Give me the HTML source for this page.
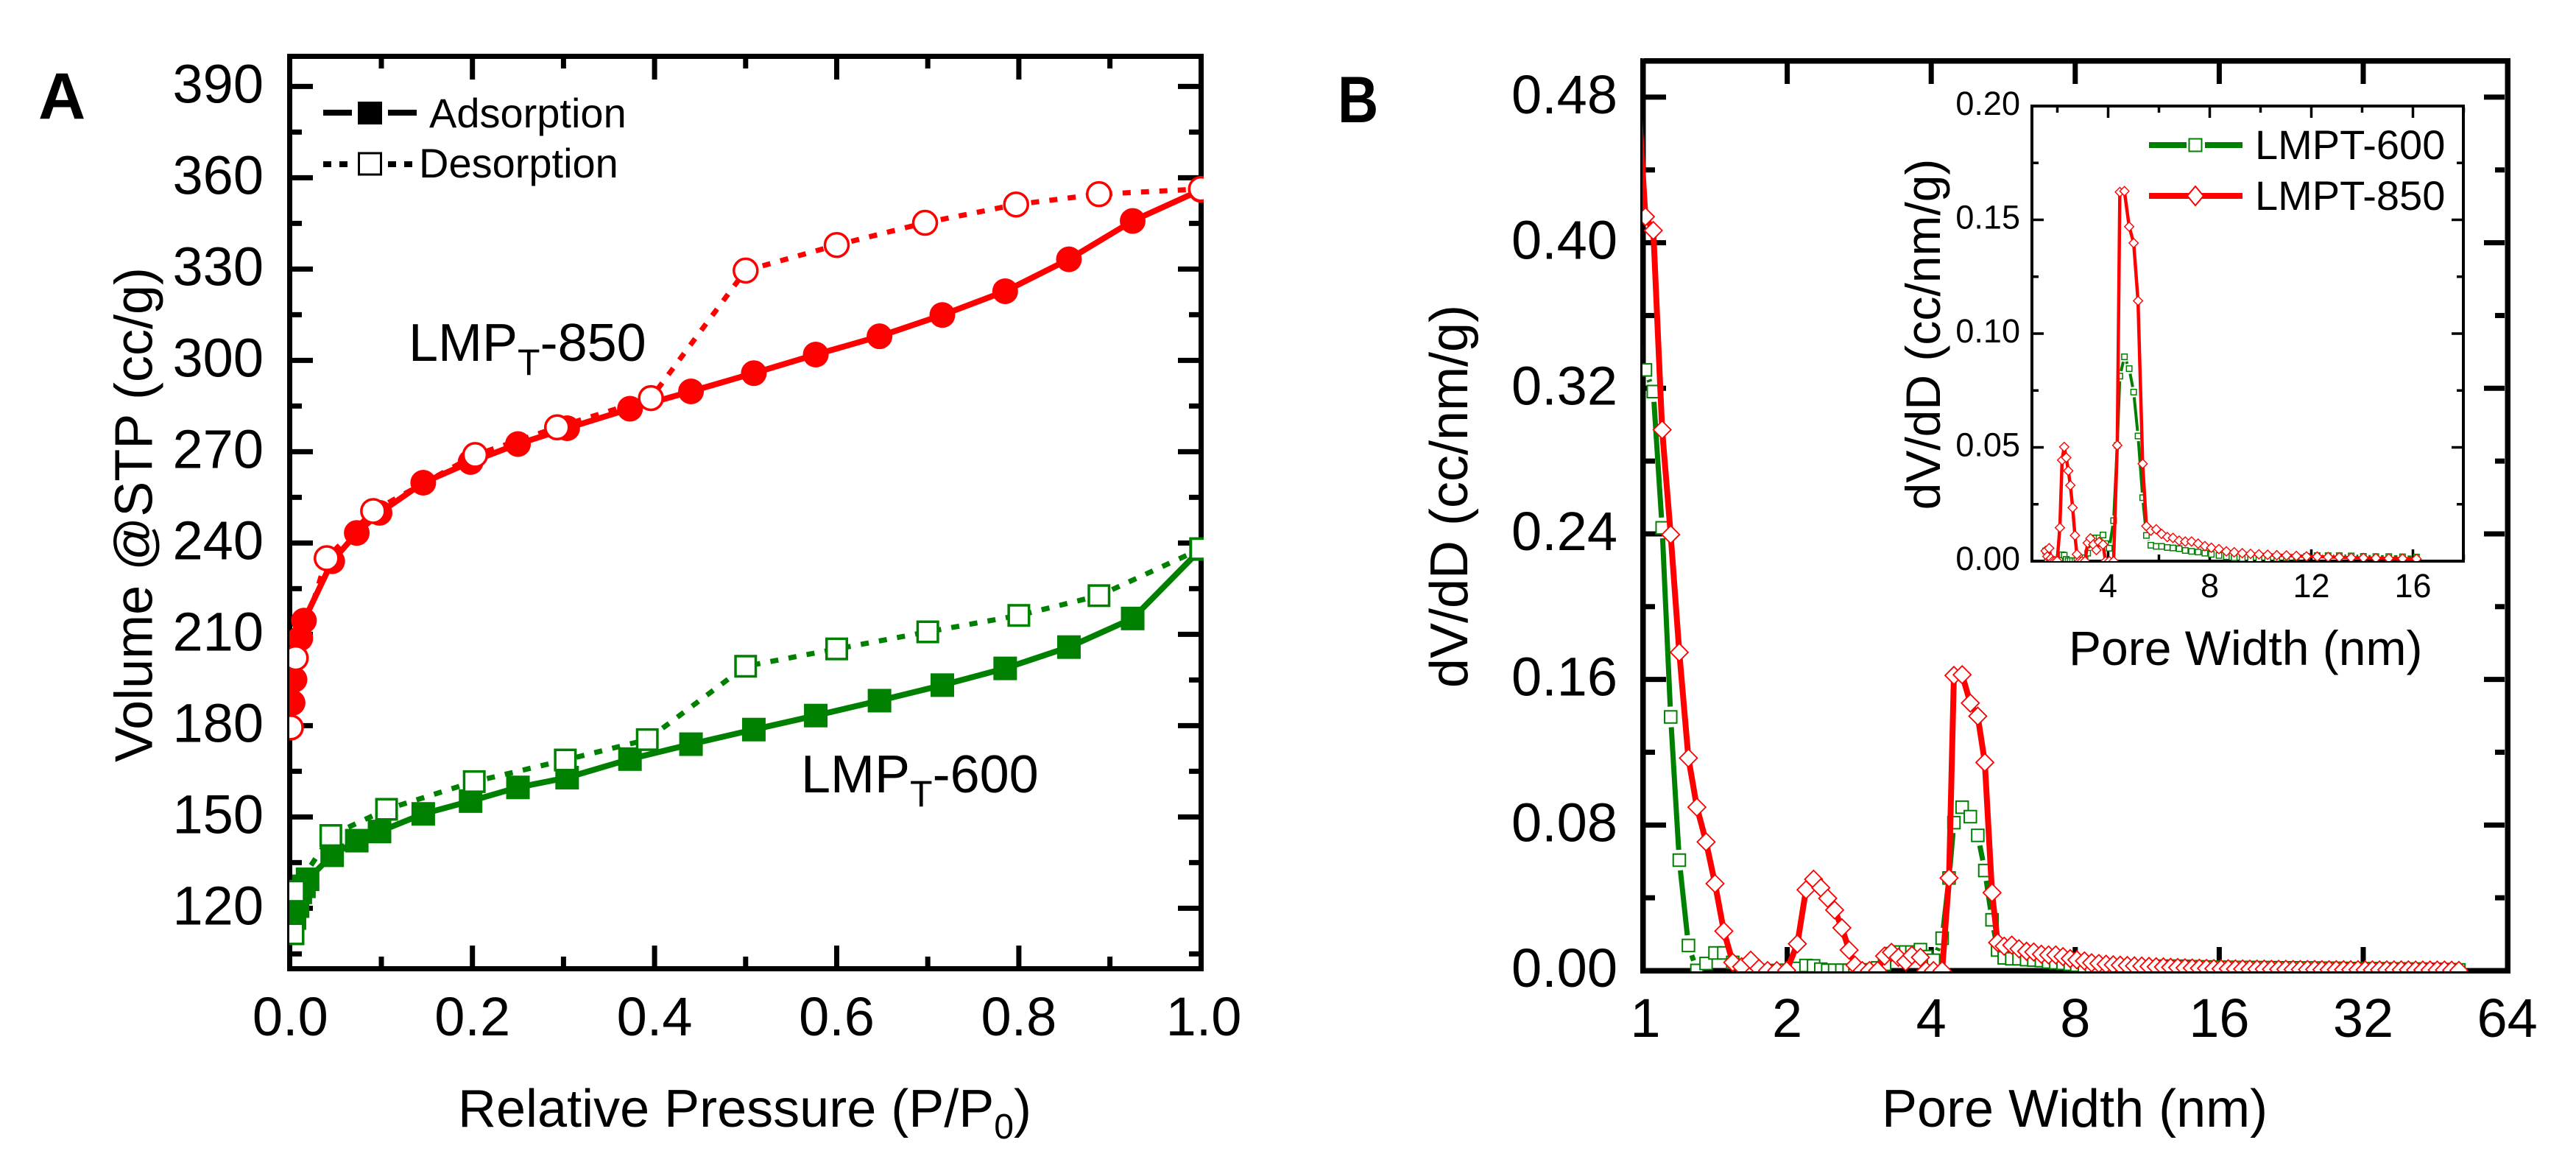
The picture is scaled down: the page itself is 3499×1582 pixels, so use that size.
<!DOCTYPE html>
<html lang="en">
<head>
<meta charset="utf-8">
<title>Isotherms and pore size distribution</title>
<style>
html,body{margin:0;padding:0;background:#fff}
svg{display:block}
text{font-family:"Liberation Sans",sans-serif;fill:#000}
</style>
</head>
<body>
<svg id="figure" xmlns="http://www.w3.org/2000/svg" width="3499" height="1582" viewBox="0 0 3499 1582">
  <defs>
    <clipPath id="clip-a"><rect x="393" y="73" width="1242" height="1246"/></clipPath>
    <clipPath id="clip-b"><rect x="2231" y="79" width="1179" height="1240"/></clipPath>
    <clipPath id="clip-i"><rect x="2759" y="142" width="590" height="620"/></clipPath>
  </defs>
  <rect width="3499" height="1582" fill="#fff"/>

  <g id="axes-a"></g>
  <g id="axes-b"></g>
  <g id="axes-i"></g>
  <g id="data-a" clip-path="url(#clip-a)"></g>
  <g id="data-b" clip-path="url(#clip-b)"></g>
  <g id="data-i" clip-path="url(#clip-i)"></g>

  <text x="52" y="161" font-size="89" font-weight="bold">A</text>
  <text transform="translate(1817,166) scale(0.86,1)" font-size="89" font-weight="bold">B</text>

  <text transform="translate(206.5,699) rotate(-90)" text-anchor="middle" font-size="72">Volume @STP (cc/g)</text>
  <text x="622" y="1530" font-size="72">Relative Pressure (P/P<tspan font-size="48" dy="16">0</tspan><tspan dy="-16">)</tspan></text>
  <text transform="translate(1993,674) rotate(-90)" text-anchor="middle" font-size="72">dV/dD (cc/nm/g)</text>
  <text x="2556" y="1530" font-size="72">Pore Width (nm)</text>
  <text transform="translate(2635,454) rotate(-90)" text-anchor="middle" font-size="66">dV/dD (cc/nm/g)</text>
  <text x="2810" y="903" font-size="66">Pore Width (nm)</text>

  <text x="555" y="490" font-size="72">LMP<tspan font-size="50" dy="19">T</tspan><tspan dy="-19">-850</tspan></text>
  <text x="1088" y="1076" font-size="72">LMP<tspan font-size="50" dy="19">T</tspan><tspan dy="-19">-600</tspan></text>

  <g>
    <g>
      <line x1="439" y1="153" x2="478" y2="153" stroke="#000" stroke-width="8"/>
      <line x1="527" y1="153" x2="566" y2="153" stroke="#000" stroke-width="8"/>
      <rect x="486" y="138" width="33" height="31" fill="#000"/>
      <text x="583" y="173" font-size="56">Adsorption</text>
    </g>
    <g>
      <line x1="439" y1="223" x2="478" y2="223" stroke="#000" stroke-width="8" stroke-dasharray="11 11"/>
      <line x1="527" y1="223" x2="566" y2="223" stroke="#000" stroke-width="8" stroke-dasharray="11 11"/>
      <rect x="487.5" y="208" width="30" height="29" fill="#fff" stroke="#000" stroke-width="3"/>
      <text x="569" y="241" font-size="56">Desorption</text>
    </g>
  </g>

  <g>
    <g>
      <line x1="2919" y1="197" x2="2970" y2="197" stroke="#008000" stroke-width="8"/>
      <line x1="2995" y1="197" x2="3046" y2="197" stroke="#008000" stroke-width="8"/>
      <rect x="2973.5" y="188.5" width="17" height="17" fill="#fff" stroke="#008000" stroke-width="2"/>
      <text x="3063" y="216" font-size="56">LMPT-600</text>
    </g>
    <g>
      <line x1="2919" y1="266" x2="3046" y2="266" stroke="#ff0000" stroke-width="8"/>
      <polygon points="2982,253 2993,266 2982,279 2971,266" fill="#fff" stroke="#ff0000" stroke-width="2"/>
      <text x="3063" y="285" font-size="56">LMPT-850</text>
    </g>
  </g>
</svg>

<script>
// ---------- Panel A data (isotherms) ----------
const adsorption600P = [0.0046,0.008,0.011,0.015,0.019,0.046,0.073,0.098,0.146,0.198,0.25,0.304,0.373,0.44,0.509,0.577,0.647,0.716,0.785,0.855,0.925,1.0];
const adsorption600V = [116.8,120.7,125.2,127.2,129.5,137.4,142.2,145.2,151,155.2,159.7,162.9,169,173.9,178.7,183.3,188.2,193.3,198.8,205.8,215.2,238];
const desorption600P = [0.003,0.004,0.0445,0.1057,0.202,0.302,0.392,0.5,0.6,0.7,0.8,0.888,1.0];
const desorption600V = [111.6,125.6,143.9,152.5,161.6,168.7,175.4,199.5,205.2,210.8,216.2,222.7,238.1];
const adsorption850P = [0.0025,0.0046,0.011,0.015,0.046,0.073,0.098,0.146,0.198,0.25,0.304,0.373,0.44,0.509,0.577,0.647,0.716,0.785,0.855,0.925,1.0];
const adsorption850V = [187.5,195.1,208.7,214.5,234,243.3,249.9,259.8,266.6,272.5,277.7,284.1,289.8,295.8,301.9,307.9,314.9,322.7,333.2,345.8,356];
const desorption850P = [0.0006,0.006,0.04,0.091,0.203,0.293,0.396,0.5,0.6,0.697,0.797,0.888,1.0];
const desorption850V = [179.4,202.2,235,250.5,268.9,278,287.6,329.5,337.9,345.2,351.2,354.6,356.3];

// ---------- Panel B data (pore size distribution) ----------
const poreWidth = [
0.965,1.0107,1.0497,1.0954,1.1413,1.1896,1.2431,1.2948,1.3534,1.4127,
1.4741,1.5388,1.6056,1.6776,1.7461,1.8194,1.902,1.9943,2.1,2.1892,
2.2707,2.351,2.4305,2.5127,2.6015,2.694,2.7706,2.8698,2.971,3.0906,
3.1952,3.3034,3.4154,3.5362,3.6441,3.7971,3.8999,4.0441,4.2157,4.3582,
4.4618,4.6418,4.8284,5.0046,5.1773,5.3602,5.5063,5.6829,5.8942,6.1024,
6.3293,6.5529,6.7962,7.0363,7.2849,7.5421,7.8087,8.0624,8.3629,8.6552,
8.9632,9.28,9.6072,9.9356,10.28,10.64,11.02,11.41,11.81,12.23,
12.66,13.10,13.57,14.05,14.54,15.05,15.59,16.14,16.71,17.30,
17.91,18.54,19.19,19.87,20.57,21.30,22.05,22.83,23.64,24.47,
25.33,26.23,27.15,28.11,29.11,30.13,31.20,32.30,33.44,34.62,
35.84,37.11,38.42,39.77,41.18,42.63,44.13,45.69,47.31,48.98,
50.71];
const dvdd850 = [
0.5022,0.4143,0.4067,0.2972,0.2396,0.1749,0.1168,0.0898,0.0707,0.0478,
0.0217,0.0045,0.0021,0.0057,0.0012,0,0,0.0001,0.0147,0.0444,
0.0502,0.0455,0.0397,0.0333,0.0235,0.0113,0.003,0,0,0,
0.008,0.01,0.0073,0.0049,0.0084,0.0073,0,0,0,0.0509,
0.1622,0.1626,0.147,0.1398,0.1144,0.0428,0.0154,0.0134,0.014,0.012,
0.0106,0.0102,0.009,0.0086,0.0086,0.0077,0.0066,0.0059,0.0053,0.0043,
0.0039,0.0035,0.0032,0.003,0.0028,0.0026,0.0025,0.0023,0.0021,0.002,
0.0018,0.0017,0.0015,0.0014,0.0013,0.0012,0.0011,0.001,0.001,0.0009,
0.0009,0.0008,0.0008,0.0008,0.0007,0.0007,0.0007,0.0006,0.0006,0.0006,
0.0006,0.0005,0.0005,0.0005,0.0005,0.0005,0.0005,0.0004,0.0004,0.0004,
0.0004,0.0004,0.0004,0.0004,0.0003,0.0003,0.0003,0.0003,0.0003,0.0002,
0.0001];
const dvdd600 = [
0.34,0.3301,0.3182,0.2433,0.1394,0.0607,0.0138,0.0001,0.0039,0.0097,
0.0097,0.0045,0.0004,0.0002,0.0001,0,0,0.0002,0.0012,0.0028,
0.0026,0.0008,0.0002,0.0002,0.0002,0.0002,0.0002,0.0002,0.0004,0.0015,
0.0035,0.0093,0.0102,0.0102,0.0102,0.0115,0.0077,0.0057,0.0178,0.0509,
0.0813,0.0898,0.0846,0.0743,0.055,0.0279,0.0113,0.007,0.0065,0.0065,
0.006,0.0058,0.0055,0.0047,0.0043,0.004,0.0035,0.003,0.0025,0.002,
0.0015,0.0012,0.001,0.0009,0.0009,0.0012,0.0015,0.0018,0.0021,0.0024,
0.0024,0.0024,0.0023,0.0021,0.002,0.002,0.0019,0.0018,0.0018,0.0017,
0.0017,0.0017,0.0016,0.0016,0.0016,0.0015,0.0015,0.0015,0.0014,0.0014,
0.0014,0.0013,0.0013,0.0012,0.0012,0.0011,0.0011,0.001,0.001,0.001,
0.0009,0.0009,0.0009,0.0008,0.0008,0.0008,0.0007,0.0007,0.0006,0.0005,
0.0004];

// ---------- Tick labels ----------
const aXMajor = ["0.0","0.2","0.4","0.6","0.8","1.0"];
const aXMinor = [0.1,0.3,0.5,0.7,0.9];
const aYMajor = ["120","150","180","210","240","270","300","330","360","390"];
const aYMinor = [105,135,165,195,225,255,285,315,345,375];
const bXMajor = ["1","2","4","8","16","32","64"];
const bYMajor = ["0.00","0.08","0.16","0.24","0.32","0.40","0.48"];
const bYMinor = [0.04,0.12,0.2,0.28,0.36,0.44];
const iXMajor = ["4","8","12","16"];
const iXMinor = [2,6,10,14,18];
const iYMajor = ["0.00","0.05","0.10","0.15","0.20"];
const iYMinor = [0.025,0.075,0.125,0.175];
const insetRange = [1.53,16.2];

// ---------- Axis functions ----------
const xA = v => 394.3 + v * 1237;
const yA = v => 1316 - (v - 100) * 4.1333;
const xB = v => 2232 + Math.log2(v) * 195.6;
const yB = v => 1318 - v * 2471;
const xI = v => 2760 + (v - 1) * 34.5;
const yI = v => 762 - v * 3090;

const NS = "http://www.w3.org/2000/svg";
function make(tag, parent, attrs) {
  const node = document.createElementNS(NS, tag);
  for (const k in attrs) node.setAttribute(k, attrs[k]);
  parent.appendChild(node);
  return node;
}
function drawFrame(g, x, y, w, h, sw) {
  const el = make("rect", g, {x: x + sw / 2, y: y + sw / 2, width: w - sw, height: h - sw, fill: "none", stroke: "#000", "stroke-width": sw});
  
  
}
function tickX(g, px, yIn1, yIn2, len, sw, name) {
  const a = make("line", g, {x1: px, x2: px, y1: yIn1, y2: yIn1 - len, stroke: "#000", "stroke-width": sw});
  
  
  const b = make("line", g, {x1: px, x2: px, y1: yIn2, y2: yIn2 + len, stroke: "#000", "stroke-width": sw});
  
  
}
function tickY(g, py, xIn1, xIn2, len, sw, name) {
  const a = make("line", g, {y1: py, y2: py, x1: xIn1, x2: xIn1 + len, stroke: "#000", "stroke-width": sw});
  
  
  const b = make("line", g, {y1: py, y2: py, x1: xIn2, x2: xIn2 - len, stroke: "#000", "stroke-width": sw});
  
  
}
function label(g, x, y, anchor, size, str, name) {
  const el = make("text", g, {x: x, y: y, "text-anchor": anchor, "font-size": size});
  el.textContent = str;
  
  
}

// ---------- Panel A axes ----------
const axA = document.getElementById("axes-a");
drawFrame(axA, 390, 73, 1245, 1246, 7);
aXMajor.forEach(t => {
  const v = parseFloat(t);
  if (v > 0 && v < 1) tickX(axA, xA(v), 1312, 80, 28, 7, "x-major-tick");
  label(axA, v === 1 ? 1635 : xA(v), 1406, "middle", 74, t, "x-tick-label");
});
aXMinor.forEach(v => tickX(axA, xA(v), 1312, 80, 13, 7, "x-minor-tick"));
aYMajor.forEach(t => {
  const v = parseFloat(t);
  tickY(axA, yA(v), 397, 1628, 28, 7, "y-major-tick");
  label(axA, 358, yA(v) + 22, "end", 74, t, "y-tick-label");
});
aYMinor.forEach(v => tickY(axA, yA(v), 397, 1628, 13, 7, "y-minor-tick"));

// ---------- Panel B axes ----------
const axB = document.getElementById("axes-b");
drawFrame(axB, 2228, 79, 1182, 1243, 7.5);
bXMajor.forEach(t => {
  const v = parseFloat(t);
  if (v > 1 && v < 64) tickX(axB, xB(v), 1314, 86, 28, 7, "x-major-tick");
  label(axB, v === 1 ? 2235 : xB(v), 1408, "middle", 74, t, "x-tick-label");
});
bYMajor.forEach(t => {
  const v = parseFloat(t);
  if (v > 0) tickY(axB, yB(v), 2235, 3402, 28, 7, "y-major-tick");
  label(axB, 2197, yB(v) + 22, "end", 74, t, "y-tick-label");
});
bYMinor.forEach(v => tickY(axB, yB(v), 2235, 3402, 13, 7, "y-minor-tick"));

// ---------- Inset axes ----------
const axI = document.getElementById("axes-i");
drawFrame(axI, 2758, 142, 590, 622, 4);
iXMajor.forEach(t => {
  const v = parseFloat(t);
  tickX(axI, xI(v), 760, 146, 14, 3.5, "inset-x-major-tick");
  label(axI, xI(v), 811, "middle", 45, t, "inset-x-tick-label");
});
iXMinor.forEach(v => tickX(axI, xI(v), 760, 146, 7, 3.5, "inset-x-minor-tick"));
iYMajor.forEach(t => {
  const v = parseFloat(t);
  if (v > 0 && v < 0.2) tickY(axI, yI(v), 2762, 3344, 14, 3.5, "inset-y-major-tick");
  label(axI, 2744, yI(v) + 12, "end", 45, t, "inset-y-tick-label");
});
iYMinor.forEach(v => tickY(axI, yI(v), 2762, 3344, 7, 3.5, "inset-y-minor-tick"));

// ---------- Series drawing ----------
function pts(xs, ys, fx, fy) {
  return xs.map((x, i) => [fx(x), fy(ys[i])]);
}
function path(g, points, color, width, dash, name) {
  const el = make("polyline", g, {points: points.map(p => p[0].toFixed(1) + "," + p[1].toFixed(1)).join(" "), fill: "none", stroke: color, "stroke-width": width, "stroke-linejoin": "round"});
  if (dash) el.setAttribute("stroke-dasharray", dash);
  
  
}
function gappedPath(g, points, color, width, gap, name) {
  const group = make("g", g, {});
  
  
  for (let i = 0; i + 1 < points.length; i++) {
    const a = points[i], b = points[i + 1];
    const d = Math.hypot(b[0] - a[0], b[1] - a[1]);
    if (d <= 2 * gap) continue;
    const ux = (b[0] - a[0]) / d, uy = (b[1] - a[1]) / d;
    make("line", group, {x1: a[0] + ux * gap, y1: a[1] + uy * gap, x2: b[0] - ux * gap, y2: b[1] - uy * gap, stroke: color, "stroke-width": width});
  }
}
function squares(g, points, size, fill, stroke, sw, name) {
  points.forEach(p => {
    const el = make("rect", g, {x: p[0] - size / 2, y: p[1] - size / 2, width: size, height: size, fill: fill, stroke: stroke, "stroke-width": sw});
    
    
  });
}
function circles(g, points, r, fill, stroke, sw, name) {
  points.forEach(p => {
    const el = make("circle", g, {cx: p[0], cy: p[1], r: r, fill: fill, stroke: stroke, "stroke-width": sw});
    
    
  });
}
function diamonds(g, points, half, stroke, sw, name) {
  points.forEach(p => {
    const el = make("polygon", g, {points: [[p[0], p[1] - half], [p[0] + half, p[1]], [p[0], p[1] + half], [p[0] - half, p[1]]].map(q => q.join(",")).join(" "), fill: "#fff", stroke: stroke, "stroke-width": sw});
    
    
  });
}

const GREEN = "#008000", RED = "#ff0000", DASH = "11 14";

// Panel A series
const dataA = document.getElementById("data-a");
const ads600 = pts(adsorption600P, adsorption600V, xA, yA);
const des600 = pts(desorption600P, desorption600V, xA, yA);
const ads850 = pts(adsorption850P, adsorption850V, xA, yA);
const des850 = pts(desorption850P, desorption850V, xA, yA);
path(dataA, ads600, GREEN, 8, null, "lmpt-600-adsorption-line");
path(dataA, des600, GREEN, 7, DASH, "lmpt-600-desorption-line");
squares(dataA, ads600, 32, GREEN, "none", 0, "lmpt-600-adsorption-point");
squares(dataA, des600, 27.5, "#fff", GREEN, 3.5, "lmpt-600-desorption-point");
path(dataA, ads850, RED, 8, null, "lmpt-850-adsorption-line");
path(dataA, des850, RED, 7, DASH, "lmpt-850-desorption-line");
circles(dataA, ads850, 17.5, RED, "none", 0, "lmpt-850-adsorption-point");
circles(dataA, des850, 16, "#fff", RED, 3.5, "lmpt-850-desorption-point");

// Panel B series
const dataB = document.getElementById("data-b");
const main600 = pts(poreWidth, dvdd600, xB, yB);
const main850 = pts(poreWidth, dvdd850, xB, yB);
gappedPath(dataB, main600, GREEN, 7, 14, "lmpt-600-line");
squares(dataB, main600, 16.5, "#fff", GREEN, 2, "lmpt-600-point");
path(dataB, main850, RED, 8, null, "lmpt-850-line");
diamonds(dataB, main850, 12, RED, 1.8, "lmpt-850-point");

// Inset series (same measurements, shown on a linear axis)
const dataI = document.getElementById("data-i");
const insetIdx = poreWidth.map((d, i) => (d >= insetRange[0] && d <= insetRange[1]) ? i : -1).filter(i => i >= 0);
const ins600 = insetIdx.map(i => [xI(poreWidth[i]), yI(dvdd600[i])]);
const ins850 = insetIdx.map(i => [xI(poreWidth[i]), yI(dvdd850[i])]);
gappedPath(dataI, ins600, GREEN, 4, 7, "inset-lmpt-600-line");
squares(dataI, ins600, 7.5, "#fff", GREEN, 1.5, "inset-lmpt-600-point");
path(dataI, ins850, RED, 4.5, null, "inset-lmpt-850-line");
diamonds(dataI, ins850, 6.3, RED, 1.4, "inset-lmpt-850-point");
</script>
</body>
</html>
